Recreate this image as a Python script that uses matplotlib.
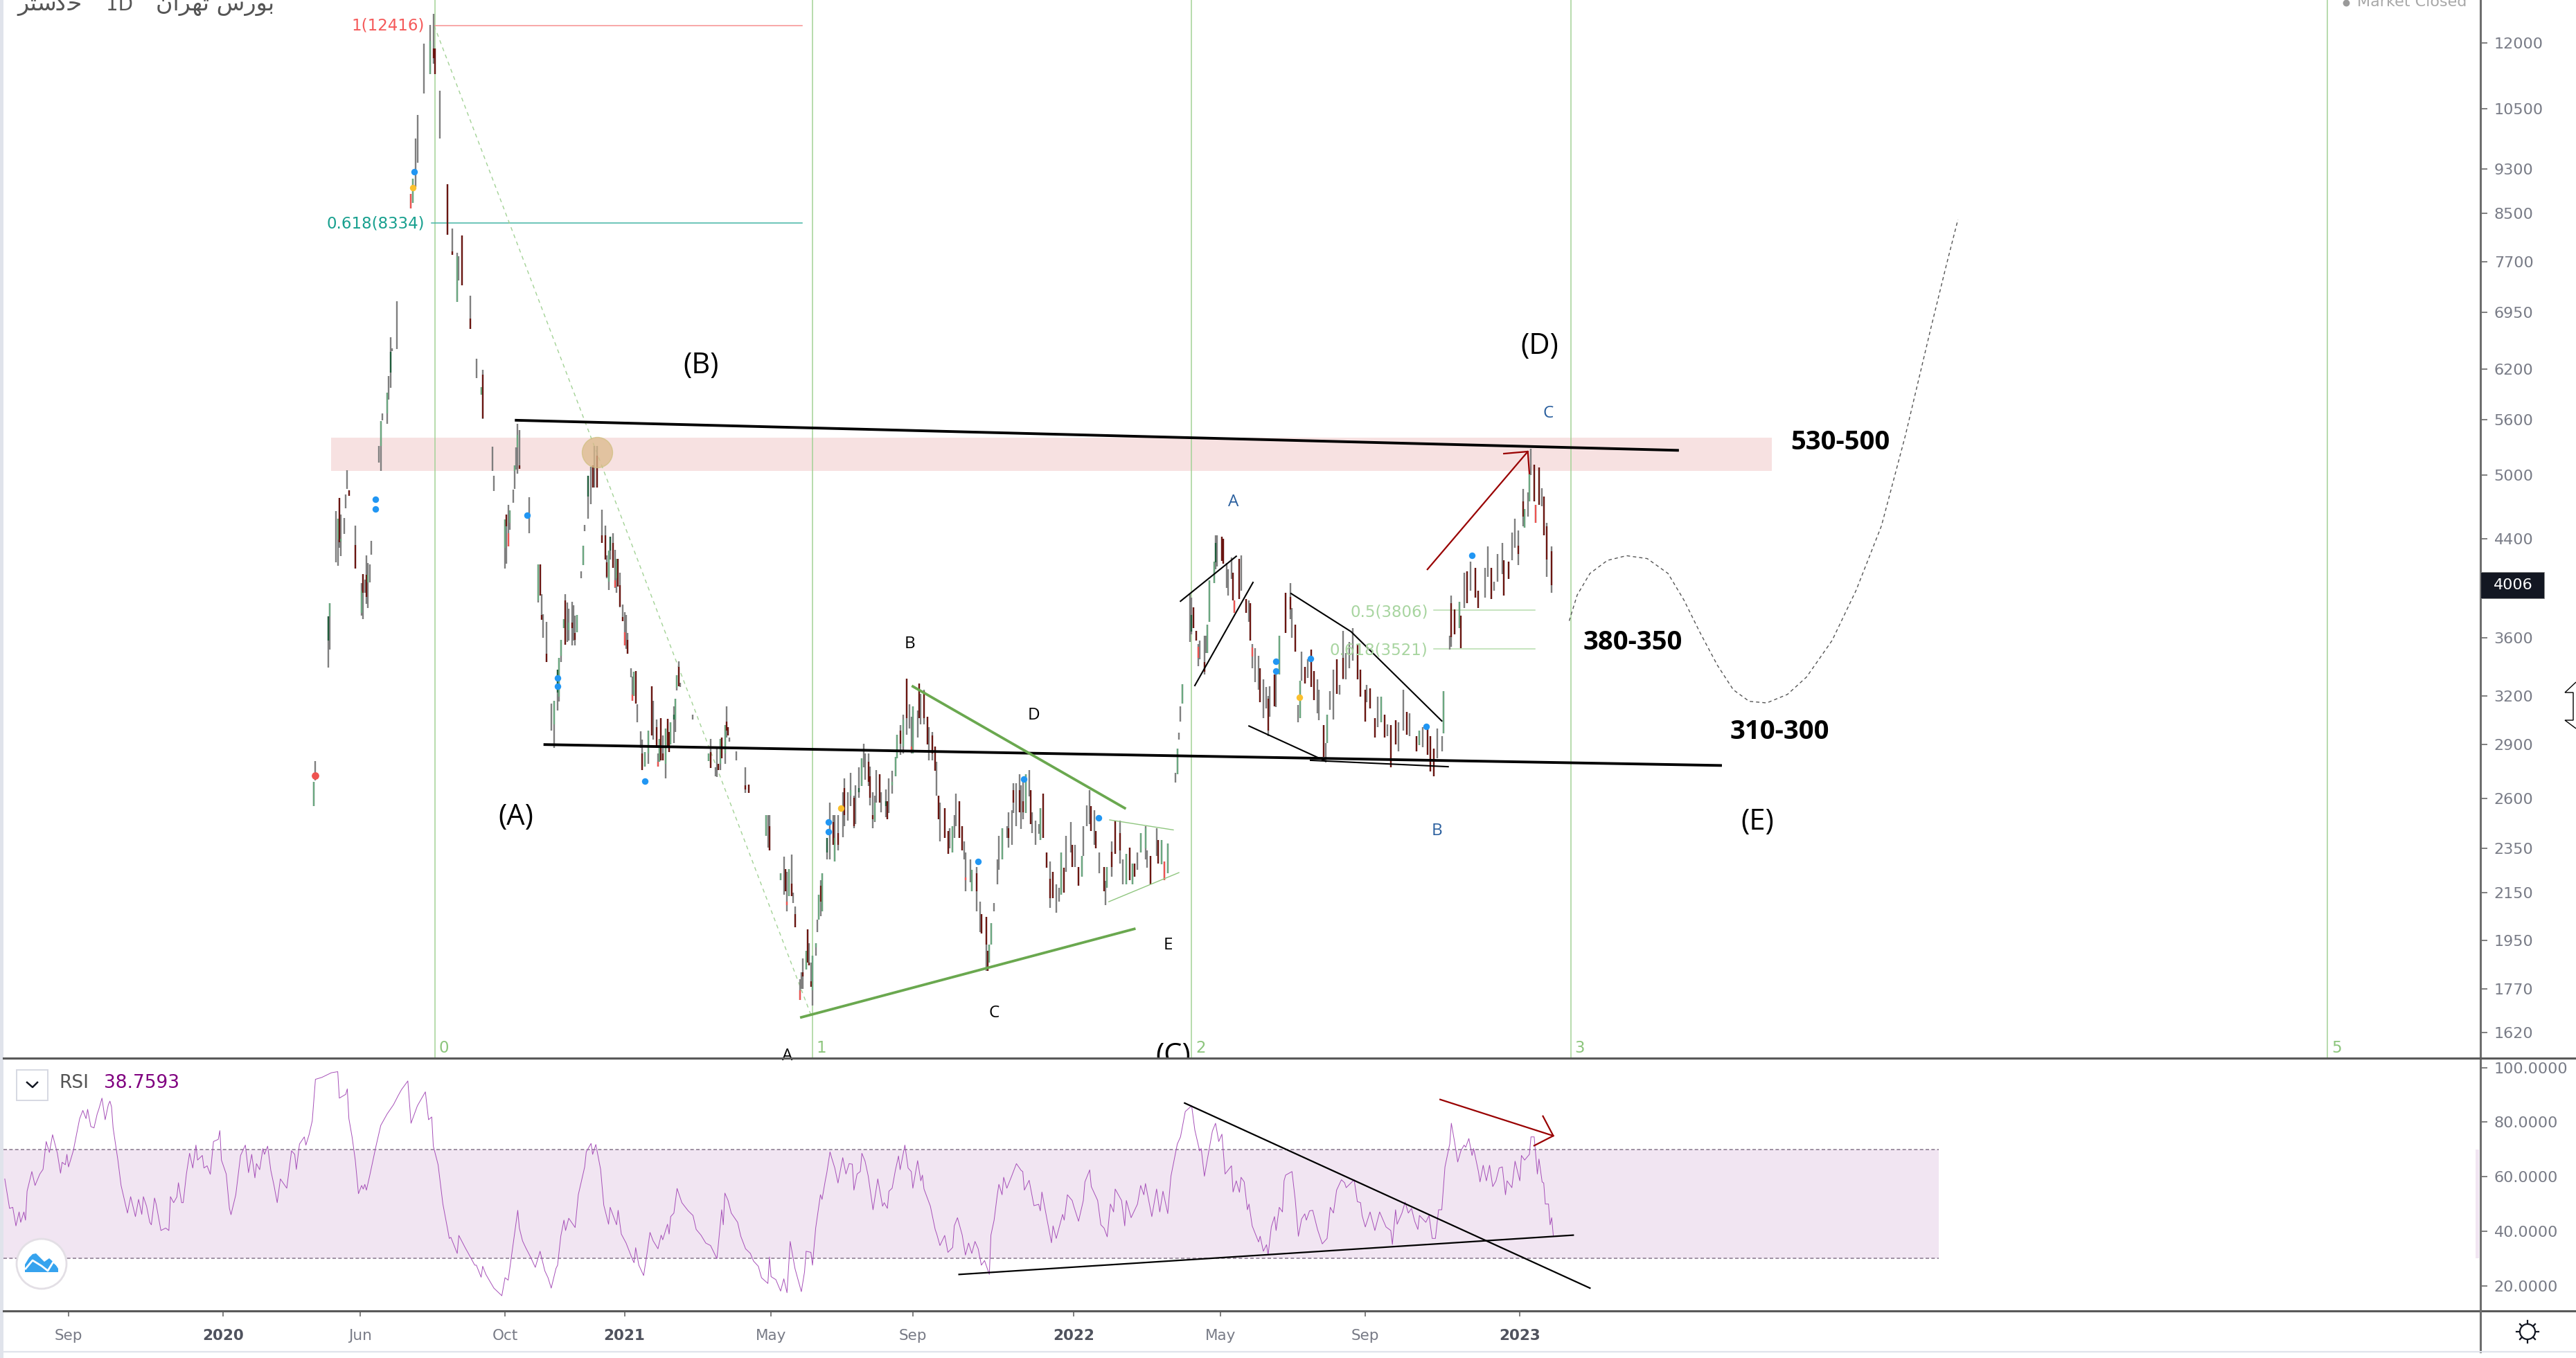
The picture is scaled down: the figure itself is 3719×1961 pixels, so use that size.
import matplotlib
matplotlib.use("Agg")
import matplotlib.pyplot as plt
from matplotlib.patches import Rectangle, Circle, Polygon

plt.rcParams['font.family'] = ['DejaVu Sans']

W, H = 3719, 1961
PX_PER_BAR = 2.3  # one bar number is 2.3 pixels wide on this chart

# price candles (bar number, high, low)
bar_x = [197,198,206,207,211,212,213,214,216,217,
         218,219,223,227,228,229,230,231,232,233,
         238,239,240,243,244,245,246,249,258,259,
         261,262,266,270,272,273,276,281,284,287,
         288,290,295,299,302,303,309,310,317,318,
         319,320,322,323,324,325,326,332,338,339,
         340,341,343,346,348,350,351,352,354,355,
         356,357,359,360,361,362,365,366,367,369,
         371,372,373,375,378,380,381,382,383,385,
         386,387,388,389,391,392,393,394,396,397,
         398,399,400,402,403,405,407,409,410,412,
         413,414,415,416,418,419,420,421,423,424,
         425,426,427,435,445,446,449,450,451,452,
         453,455,456,457,458,462,468,470,481,482,
         483,490,492,493,494,495,497,498,499,502,
         503,504,506,507,508,509,510,512,513,514,
         515,516,519,521,523,524,526,529,530,532,
         534,536,537,539,541,542,543,545,546,548,
         549,550,552,553,556,557,558,560,562,563,
         565,567,569,571,572,573,576,577,578,580,
         582,583,585,587,588,589,590,593,595,596,
         598,599,600,602,604,605,606,609,610,613,
         615,616,619,620,621,622,624,626,627,629,
         632,633,635,636,638,640,641,642,644,646,
         647,648,650,652,653,655,657,659,661,663,
         665,666,668,669,672,673,675,677,679,680,
         682,684,685,687,688,690,693,694,695,698,
         700,703,705,707,709,711,712,714,716,719,
         720,722,726,727,729,731,733,738,739,740,
         741,742,747,748,749,751,752,753,756,757,
         758,759,762,763,764,767,768,770,771,773,
         774,775,778,779,782,784,785,786,788,790,
         791,793,795,796,797,800,801,803,807,810,
         811,813,815,816,817,819,821,823,825,827,
         828,831,832,833,835,837,839,841,843,845,
         847,849,852,854,857,858,860,863,865,867,
         869,871,873,876,878,881,883,885,889,891,
         893,896,898,900,902,905,906,910,911,913,
         916,917,919,921,923,926,928,932,934,936,
         938,940,943,944,947,949,951,953,956,957,
         959,960,961,963,964,966,968,969,971,974]
bar_high = [2690,2805,3760,3860,4650,4580,4780,4620,4590,4810,
            5055,4850,4515,4020,4095,4050,4250,4185,4175,4380,
            5305,5580,5670,5915,6110,6610,6470,7110,8840,9115,
            9885,10370,11980,12440,12720,11860,10890,9010,8240,7845,
            7790,8125,7190,6330,5975,6190,5300,4995,4575,4620,
            4710,4660,4855,5105,5290,5550,5480,4785,4175,4175,
            3930,3775,3715,3150,3170,3375,3455,3585,3740,3930,
            3865,3820,3870,3845,3765,3770,4120,4335,4520,4995,
            5090,5105,5305,5305,4665,4515,4250,4290,4415,4445,
            4300,4225,4225,4105,3850,3790,3770,3635,3385,3330,
            3360,3365,3145,2980,2930,2855,2985,3265,3170,3050,
            2850,2935,3060,2955,2995,3055,2975,3035,3133,3180,
            3335,3430,3285,3080,2850,2935,2770,2880,2790,2935,
            2940,3015,3133,3005,2940,2860,2770,2675,2515,2515,
            2515,2235,2310,2255,2240,2255,2320,2150,2090,1805,
            1830,1880,1910,1995,1940,1865,1891,1940,2035,2140,
            2205,2235,2400,2580,2515,2515,2515,2635,2710,2635,
            2740,2615,2670,2770,2820,2905,2850,2850,2775,2635,
            2615,2755,2730,2635,2650,2585,2710,2750,2830,2960,
            3015,3080,3313,3145,3070,3135,3105,3280,3215,3240,
            3070,3005,2975,2890,2800,2615,2580,2550,2434,2450,
            2460,2515,2625,2585,2460,2385,2330,2300,2250,2265,
            2110,2057,2045,1910,1935,2020,2105,2300,2410,2450,
            2460,2530,2540,2680,2680,2730,2670,2710,2730,2755,
            2645,2530,2485,2470,2550,2625,2330,2290,2240,2185,
            2170,2330,2260,2410,2480,2367,2367,2265,2315,2460,
            2565,2645,2560,2540,2434,2330,2265,2200,2265,2385,
            2485,2485,2300,2325,2355,2280,2280,2330,2425,2460,
            2340,2315,2450,2390,2390,2290,2375,2740,2875,2970,
            3133,3275,3930,3905,3830,3650,3555,3580,3615,3615,
            3695,4045,4200,4430,4430,4415,4400,4185,4135,4235,
            4105,3885,4225,4250,3895,3885,3860,3555,3525,3470,
            3385,3310,3260,3200,3265,3340,3385,3615,3945,4020,
            3825,3695,3140,3300,3500,3395,3445,3515,3365,3310,
            3240,3015,2910,3080,3230,3375,3445,3270,3650,3490,
            3570,3670,3555,3375,3240,3270,3250,3060,3195,3195,
            3080,3020,3015,3045,3035,3240,3100,3090,2950,2985,
            3005,3015,2950,2875,2995,2950,3230,3615,3920,3810,
            3870,3765,4105,4120,4200,4146,3960,4146,4330,4146,
            4032,4264,4360,4210,4200,4455,4580,4470,4865,4670,
            4830,5020,5280,5110,4710,5080,4870,4790,4540,4330]
bar_low = [2560,2695,3390,3515,4195,4165,4320,4245,4440,4680,
           4865,4800,4140,3765,3740,3940,3855,3825,4025,4260,
           5130,5045,5590,5550,5830,5970,6430,6460,8580,8680,
           8960,9415,10830,11260,11500,11260,9885,8135,7810,7100,
           7415,7350,6720,6085,5890,5605,5045,4845,4140,4180,
           4330,4480,4730,4865,5060,5015,5070,4450,3865,3920,
           3735,3600,3425,2985,2880,3105,3165,3425,3670,3550,
           3570,3580,3545,3580,3545,3640,4060,4170,4465,4580,
           4715,4880,4880,4880,4360,4215,4060,3965,4215,4146,
           3980,3940,3990,3830,3725,3545,3520,3485,3325,3170,
           3200,3150,3035,2880,2755,2775,2790,2955,2930,2880,
           2775,2800,2810,2810,2710,2890,2855,2900,2910,2975,
           3235,3265,3260,3050,2805,2765,2720,2715,2755,2755,
           2820,2790,2940,2955,2915,2810,2630,2630,2410,2355,
           2340,2205,2140,2155,2070,2135,2135,2105,2005,1730,
           1770,1770,1839,1865,1855,1775,1710,1891,1985,2035,
           2050,2070,2300,2300,2367,2290,2340,2405,2460,2485,
           2560,2450,2470,2605,2665,2770,2700,2665,2565,2450,
           2480,2580,2580,2530,2503,2495,2525,2625,2720,2820,
           2840,2850,2960,2995,2850,2850,2940,3060,3020,3020,
           2900,2810,2810,2750,2615,2495,2385,2400,2325,2350,
           2330,2400,2460,2400,2340,2300,2155,2195,2155,2070,
           1985,1980,1835,1835,1865,1935,2070,2185,2250,2300,
           2400,2355,2367,2525,2460,2530,2445,2495,2525,2610,
           2470,2425,2367,2420,2390,2400,2260,2085,2125,2065,
           2110,2140,2150,2240,2330,2265,2265,2180,2220,2315,
           2460,2470,2434,2367,2350,2235,2155,2095,2170,2220,
           2325,2280,2185,2185,2205,2185,2220,2250,2330,2300,
           2260,2185,2315,2280,2275,2205,2235,2685,2730,2930,
           3040,3150,3570,3625,3670,3580,3400,3445,3340,3490,
           3490,3715,4020,4135,4160,4205,4180,3980,3920,4055,
           3885,3785,3895,3960,3785,3715,3580,3385,3290,3240,
           3160,3060,3120,2950,3070,3135,3130,3340,3635,3740,
           3600,3500,3035,3060,3300,3280,3320,3260,3175,3090,
           3045,2830,2795,2910,3110,3050,3215,3210,3310,3310,
           3385,3435,3310,3195,3040,3160,3120,2940,3005,3035,
           2940,2950,2770,2900,2860,2985,2960,2950,2860,2895,
           2885,2840,2745,2720,2820,2860,2965,3515,3535,3625,
           3670,3525,3825,3860,3960,3905,3825,3905,4070,3895,
           3960,4032,4095,3920,4055,4210,4320,4170,4510,4495,
           4600,4745,5005,4745,4540,4710,4700,4430,4070,3945]

# candles whose body shows a colour (bar number, open, close)
body_x = [197,206,207,212,213,214,219,223,227,228,
          230,231,243,239,245,258,259,270,272,273,
          281,284,287,290,295,302,303,317,318,319,
          320,323,325,326,338,339,340,343,348,350,
          351,352,354,355,357,359,361,362,366,369,
          372,375,378,380,381,382,383,385,386,387,
          388,389,391,392,394,397,398,399,403,405,
          407,409,412,413,414,415,416,418,419,420,
          421,423,424,425,426,445,446,451,452,453,
          455,456,457,468,470,481,483,490,493,494,
          495,497,499,502,504,506,507,508,509,510,
          512,514,515,516,519,523,524,526,530,534,
          536,539,541,545,546,548,549,552,556,557,
          560,562,563,565,567,569,572,573,577,580,
          582,585,587,589,593,595,598,602,604,606,
          610,613,616,619,620,621,622,629,633,636,
          640,642,644,647,653,655,657,659,661,666,
          668,673,677,679,685,688,693,695,698,700,
          703,707,709,711,712,716,719,722,727,729,
          731,733,739,742,748,749,751,752,756,758,
          759,762,763,767,768,774,775,778,782,785,
          786,791,796,800,803,807,810,813,816,819,
          823,825,831,833,839,843,852,854,857,860,
          863,867,869,873,876,883,889,891,896,898,
          900,906,911,913,916,917,921,926,928,936,
          944,947,953,956,957,960,963,964,966,969,
          971,974]
body_open = [2560,3577,3760,4390,4780,4375,4850,4340,3785,4095,
             4090,4025,5670,5305,6155,8840,8680,11260,11860,11860,
             9010,7865,7100,8125,6867,5890,6130,4320,4620,4445,
             4540,5045,5290,5105,3885,4175,3770,3485,3020,3220,
             3195,3470,3670,3885,3655,3710,3635,3640,4170,4790,
             5105,5205,4430,4430,4195,4032,4295,4360,4045,4060,
             4225,4005,3755,3640,3585,3210,3200,3365,2850,2775,
             2850,3265,3005,2800,2800,3060,2850,2790,3055,2975,
             2900,3050,3050,3255,3395,2805,2855,2790,2790,2940,
             2850,3040,3005,2670,2675,2410,2460,2205,2255,2110,
             2135,2190,2057,1763,1830,1839,1995,1865,1795,1763,
             1925,2035,2180,2070,2330,2480,2290,2425,2655,2615,
             2605,2635,2665,2801,2720,2515,2485,2730,2560,2585,
             2670,2720,2820,2985,2890,3313,2890,2850,3280,3230,
             3070,2955,2890,2615,2550,2434,2330,2585,2460,2215,
             2155,2235,2057,2045,1910,1865,1935,2300,2450,2645,
             2645,2585,2525,2645,2390,2625,2330,2210,2240,2140,
             2260,2367,2265,2220,2560,2434,2265,2170,2335,2485,
             2425,2185,2355,2185,2280,2330,2350,2315,2390,2275,
             2290,2235,2730,3150,3645,3830,3650,3535,3425,3490,
             3715,4020,4195,4415,4400,4105,3885,4225,3895,3860,
             3530,3385,3180,3340,3340,3945,3910,3695,3060,3395,
             3515,3365,3015,2910,3445,3455,3555,3375,3240,3250,
             3060,3035,3080,3015,3045,3100,2950,2895,3015,2950,
             2875,2965,3860,3810,3670,3765,4120,4146,3960,4146,
             4210,4200,4335,4745,4495,4745,5110,4710,5080,4790,
             4510,4290]
body_close = [2690,3760,3860,4580,4370,4400,4800,4140,3960,3940,
              3910,4090,5915,5580,6420,8580,9115,12045,11630,11260,
              8135,7810,7790,7350,6720,5975,5610,4575,4510,4330,
              4660,5105,5430,5070,4175,3920,3735,3425,3170,3375,
              3455,3585,3740,3550,3710,3670,3585,3770,4335,4995,
              4880,4880,4360,4215,4070,4295,4415,4146,3985,4225,
              3990,3835,3725,3545,3485,3170,3360,3150,2755,2855,
              2985,2955,2880,2775,2935,2810,2810,2995,2890,2855,
              3035,3080,3180,3335,3265,2850,2765,2755,2935,2820,
              3015,2985,2955,2650,2630,2515,2340,2235,2155,2095,
              2255,2135,2005,1730,1815,1910,1865,1855,1775,1891,
              1940,2140,2110,2235,2400,2367,2400,2367,2515,2645,
              2460,2655,2820,2690,2605,2495,2580,2580,2585,2495,
              2690,2830,2960,2905,3050,3060,2870,3135,3060,3060,
              2900,2850,2750,2495,2400,2325,2460,2400,2340,2205,
              2250,2155,1980,1935,1835,1935,2020,2450,2400,2580,
              2530,2530,2730,2470,2550,2400,2260,2125,2125,2330,
              2150,2265,2180,2315,2434,2350,2155,2265,2265,2325,
              2340,2325,2205,2280,2220,2425,2450,2185,2280,2390,
              2205,2375,2875,3275,3770,3670,3580,3455,3360,3695,
              4045,4200,4360,4205,4180,3885,3785,3895,3785,3580,
              3465,3160,2985,3135,3615,3635,3810,3500,3300,3280,
              3260,3175,2830,3080,3215,3313,3310,3195,3040,3120,
              2940,3195,2940,2770,2900,2960,2860,2985,2840,2745,
              2720,3230,3604,3625,3870,3525,3860,3905,3825,3895,
              3920,4055,4264,4600,4670,5020,4745,4540,4710,4430,
              4215,4005]
bright_bars = [258, 319, 386, 392, 397, 413, 494, 502, 572, 606, 731, 752, 775, 786, 964]
dark_bars = [206, 245, 350, 369, 383, 423, 519, 539, 556, 748, 763]

# RSI pane, read point by point
rsi_x = [3,6,8,10,12,13,15,16,17,20,22,25,27,29,31,33,36,38,39,41,42,43,46,50,52,54,55,57,59,61,62,64,66,68,69,70,71,74,76,80,
         82,85,87,89,90,92,94,95,97,98,101,104,106,107,109,111,112,114,115,117,119,121,123,124,127,128,130,132,134,137,138,139,142,144,145,148,151,154,156,158,
         160,161,163,165,166,168,170,172,174,176,180,183,185,186,188,191,192,194,196,198,202,208,212,213,217,218,219,221,223,225,227,228,229,230,232,236,239,243,247,250,
         252,256,258,262,267,269,271,272,275,278,281,282,283,287,288,292,294,298,299,302,303,305,310,315,317,319,322,325,326,328,330,333,336,339,342,344,346,349,350,352,
         354,355,357,361,363,367,368,371,372,374,377,379,382,383,387,388,390,393,397,398,399,401,404,406,408,410,413,415,416,419,420,421,423,425,428,432,435,437,440,443,
         446,450,451,453,454,455,457,459,463,465,468,471,473,476,478,482,483,484,487,490,492,494,496,499,501,503,505,506,509,510,512,515,516,518,519,521,
         522,524,526,529,531,533,535,536,538,540,541,543,545,548,551,554,555,557,558,560,562,564,565,568,570,572,573,576,578,579,580,584,587,588,590,593,595,598,599,601,
         604,606,608,610,612,614,616,618,621,622,624,626,627,629,630,632,635,638,641,642,643,646,649,652,653,654,657,660,661,663,667,668,670,673,674,677,680,681,684,685,
         689,691,693,695,697,699,700,704,706,707,710,714,716,718,719,723,726,728,730,733,735,739,741,744,748,750,753,754,756,761,763,765,767,769,773,774,776,778,779,781,
         783,784,786,790,791,793,795,796,798,800,801,803,805,806,807,811,813,815,817,819,820,822,824,827,830,833,835,837,839,842,844,845,850,852,854,855,857,860,863,866,
         870,873,874,876,877,880,882,884,886,888,890,891,895,897,899,901,903,905,907,910,911,913,915,917,919,920,922,924,925,928,929,931,933,935,937,939,941,943,945,946,
         949,951,954,955,957,960,961,963,965,966,968,969,970,972,973,974,975]
rsi_val = [59.2,48.4,48.8,42.0,47.1,43.3,47.1,44.1,54.7,61.9,56.8,61.0,62.7,72.9,68.9,75.4,68.6,61.3,65.3,64.4,68.2,63.6,69.5,81.3,84.3,81.3,84.7,78.4,77.9,83.0,84.7,88.8,80.9,86.4,87.7,85.6,77.9,66.1,56.8,46.7,
           52.7,45.4,51.7,46.2,52.7,49.2,43.3,42.4,52.2,50.0,40.3,41.2,40.3,52.7,50.5,52.6,57.8,50.5,50.5,61.0,68.6,63.2,71.6,66.1,67.8,63.2,64.0,60.9,72.9,73.7,76.9,66.1,61.0,48.4,46.1,53.4,67.8,71.6,61.5,68.2,
           59.6,64.8,62.6,70.3,68.2,71.2,62.3,56.8,50.5,59.2,55.8,69.5,68.2,62.7,72.0,74.6,71.6,75.4,80.5,95.7,96.4,98.1,98.5,88.8,90.2,92.2,81.3,74.6,66.1,53.8,56.8,55.5,57.2,55.1,60.2,71.2,78.8,83.0,86.4,89.8,
           91.9,95.1,79.6,86.0,91.1,80.9,81.9,71.2,64.4,50.0,40.7,37.4,37.8,31.9,38.5,34.0,31.9,27.6,27.6,23.2,27.2,24.2,19.2,16.4,23.0,22.1,34.8,47.7,41.2,36.5,34.0,30.6,26.8,32.7,25.5,23.0,19.2,26.4,27.6,38.2,
           44.1,40.3,44.8,41.4,53.4,63.6,69.1,72.2,68.2,71.8,62.7,49.6,42.6,48.8,42.4,47.7,39.0,35.7,29.7,28.5,34.0,27.6,23.8,31.4,39.6,36.5,33.6,38.6,36.9,42.6,39.0,45.4,46.7,55.7,50.5,47.5,45.8,40.7,38.6,35.7,
           34.8,30.0,35.7,47.9,42.4,54.0,51.3,46.7,43.3,38.2,33.6,31.9,29.1,27.2,23.0,20.9,30.6,23.4,22.3,18.1,22.6,17.5,36.3,26.4,22.1,17.9,25.1,32.7,32.3,27.6,41.2,53.4,51.7,58.5,61.5,69.1,
           67.0,63.2,57.7,67.0,61.0,64.8,64.6,55.1,61.0,61.9,68.6,65.7,60.2,47.9,59.2,49.2,50.5,48.4,54.7,55.8,62.3,67.6,62.6,71.6,63.2,61.9,55.8,65.9,58.5,60.6,55.5,49.2,40.7,39.0,34.8,38.5,32.3,34.1,42.0,45.0,
           38.6,31.3,35.7,31.9,36.3,33.6,27.6,29.3,24.2,38.6,44.1,53.4,57.2,53.4,59.8,55.8,60.2,64.8,62.3,61.9,55.1,58.7,49.4,49.9,47.5,54.4,45.0,35.8,42.0,37.4,46.2,44.1,53.4,51.3,49.2,43.7,51.3,58.1,62.5,56.4,
           51.3,42.4,41.2,38.0,50.0,47.1,55.5,51.3,42.0,51.3,45.0,50.0,56.8,53.4,57.5,45.4,55.5,47.1,54.7,46.5,60.2,72.0,74.6,83.9,86.0,77.1,69.5,70.3,60.2,76.7,79.6,72.9,75.6,61.0,64.0,54.4,58.5,54.3,59.8,58.1,
           47.9,50.0,42.0,36.1,38.2,32.7,35.1,31.4,41.6,45.4,40.3,48.8,47.1,58.5,60.6,61.9,51.7,38.2,44.5,46.4,44.1,47.5,47.7,40.7,35.4,37.4,48.8,46.7,55.1,58.9,57.8,56.0,58.9,50.9,50.5,45.8,41.6,47.1,40.3,47.1,
           41.6,40.3,35.2,47.9,42.6,46.7,50.7,46.7,48.4,43.7,40.7,45.8,43.3,45.8,37.4,37.4,47.9,47.9,63.6,72.0,79.6,72.9,65.4,69.5,71.6,70.8,74.0,67.8,70.3,61.9,58.1,64.2,58.5,64.2,56.4,58.5,63.2,63.6,53.4,58.5,
           56.0,65.7,58.5,67.8,66.1,68.2,74.6,74.6,61.0,66.5,58.1,57.7,50.0,50.0,42.4,45.0,38.5]

# axis labels
price_ticks = [12000, 10500, 9300, 8500, 7700, 6950, 6200, 5600, 5000, 4400, 3600, 3200, 2900, 2600, 2350, 2150, 1950, 1770, 1620]
rsi_ticks = [100, 80, 60, 40, 20]
date_bars = [43, 140, 226, 317, 392, 484, 573, 674, 766, 857, 954]
date_labels = ['Sep', '2020', 'Jun', 'Oct', '2021', 'May', 'Sep', '2022', 'May', 'Sep', '2023']

# fibonacci tools
fib_time_bars = [273, 510, 748, 986, 1461]
fib_time_labels = ['0', '1', '2', '3', '5']

# drawings on the price pane (bar numbers and prices)
top_line_x, top_line_y = [324, 1053], [5590, 5260]
low_line_x, low_line_y = [342, 1080], [2900, 2780]
green_down_x, green_down_y = [573, 706], [3262, 2550]
green_up_x, green_up_y = [503, 712], [1670, 1997]
tri_top_x, tri_top_y = [696.5, 736.5], [2490, 2440]
tri_low_x, tri_low_y = [696, 740], [2110, 2238]
chan_a_x, chan_a_y = [741, 776], [3876, 4245]
chan_b_x, chan_b_y = [750, 786.5], [3268, 4026]
wedge_x, wedge_y = [810.4, 848, 905], [3937, 3645, 3042]
wedge_low_x, wedge_low_y = [784, 832], [3011, 2805]
flat_low_x, flat_low_y = [822.6, 909], [2809, 2773]
red_arrow_x, red_arrow_y = [896, 959], [4134, 5247]
red_head_x, red_head_y = [944, 959, 960], [5225, 5247, 5020]
fib_diag_x, fib_diag_y = [272.6, 509.6], [12416, 1670]
path_x = [985, 990, 998, 1009, 1021, 1034, 1047, 1057, 1067, 1078, 1088, 1098, 1109, 1122, 1134, 1150, 1165, 1181, 1196, 1212, 1222, 1229]
path_y = [3725, 3925, 4100, 4210, 4250, 4225, 4100, 3885, 3640, 3405, 3240, 3165, 3155, 3210, 3325, 3580, 3960, 4515, 5420, 6735, 7680, 8390]

blue_x = [260, 235.6, 235.6, 331, 520, 520, 614, 642.5, 689.4, 801, 801, 822.4, 895, 924, 404.6, 350, 350]
blue_y = [9245, 4765, 4670, 4612, 2480, 2430, 2290, 2705, 2500, 3430, 3365, 3450, 3010, 4250, 2692, 3320, 3262]
yellow_x = [259, 528, 815.6]
yellow_y = [8950, 2550, 3190]

# drawings on the RSI pane
rsi_fall_x, rsi_fall_y = [743.6, 998], [87, 19.2]
rsi_rise_x, rsi_rise_y = [602, 987.5], [24.2, 38.6]
rsi_red_x, rsi_red_y = [904, 975], [88.3, 75]
rsi_head_x, rsi_head_y = [968.5, 975, 963], [82.2, 75, 71.4]

GREY = '#7f7f7f'
UP = '#6aa880'
DOWN = '#6b1510'
BRIGHT = '#ef5350'
DARK_UP = '#1e5c3a'
FIB = '#a3d296'
LINE = '#5a5a5a'
TICK_TEXT = '#787b86'


def pane_rect(top, bottom):
    return [5 / W, 1 - bottom / H, (3581 - 5) / W, (bottom - top) / H]


fig = plt.figure(figsize=(W / 100, H / 100), dpi=100, facecolor='white')
ax = fig.add_axes(pane_rect(0, 1528))
ax_rsi = fig.add_axes(pane_rect(1529, 1893))

# price pane
ax.set_yscale('log')
ax.set_xlim(5 / PX_PER_BAR, 3581 / PX_PER_BAR)
ax.set_ylim(1537.5, 13084)
ax.add_patch(Rectangle((208, 5045), 1112 - 208, 5400 - 5045, facecolor='#f7e1e1', edgecolor='none', zorder=1))
for b in fib_time_bars:
    ax.axvline(b, color=FIB, lw=1.1, zorder=1.5)
for b, t in zip(fib_time_bars, fib_time_labels):
    ax.annotate(t, (b, 1570), xytext=(4, 0), textcoords='offset points', ha='left', va='center',
                color='#8cc57c', fontsize=16.5)

ax.plot([272, 503.5], [12416, 12416], color='#f78f8f', lw=1.1, zorder=1.5)
ax.plot([270.7, 503.5], [8334, 8334], color='#45b5a5', lw=1.1, zorder=1.5)
ax.plot([900, 963.3], [3806, 3806], color='#b6dcae', lw=1.1, zorder=1.5)
ax.plot([900, 963.3], [3521, 3521], color='#b6dcae', lw=1.1, zorder=1.5)
ax.plot(fib_diag_x, fib_diag_y, color='#a3d296', lw=1, ls=(0, (4, 4)), zorder=1.5)

ax.vlines(bar_x, bar_low, bar_high, color=GREY, lw=1.7, zorder=2)
body_colors = []
for b, o, c in zip(body_x, body_open, body_close):
    if b in bright_bars:
        body_colors.append(BRIGHT)
    elif b in dark_bars:
        body_colors.append(DARK_UP)
    elif c > o:
        body_colors.append(UP)
    else:
        body_colors.append(DOWN)
ax.vlines(body_x, body_open, body_close, color=body_colors, lw=1.6, zorder=2.2)

ax.scatter(blue_x, blue_y, s=46, color='#2196f3', zorder=3, linewidths=0)
ax.scatter(yellow_x, yellow_y, s=46, color='#fbc02d', zorder=3, linewidths=0)
ax.scatter([198], [2724], s=60, color='#ef5350', zorder=3, linewidths=0)
ax.scatter([375], [5240], s=1000, facecolor='#dcb98a', edgecolor='#cfc07f', alpha=0.75, lw=1, zorder=2.5)

ax.plot(top_line_x, top_line_y, color='black', lw=2.8, zorder=4)
ax.plot(low_line_x, low_line_y, color='black', lw=2.8, zorder=4)
ax.plot(green_down_x, green_down_y, color='#6aa84f', lw=2.7, zorder=4)
ax.plot(green_up_x, green_up_y, color='#6aa84f', lw=2.7, zorder=4)
ax.plot(tri_top_x, tri_top_y, color='#8fc67f', lw=1, zorder=4)
ax.plot(tri_low_x, tri_low_y, color='#8fc67f', lw=1, zorder=4)
for xs, ys in [(chan_a_x, chan_a_y), (chan_b_x, chan_b_y), (wedge_x, wedge_y), (wedge_low_x, wedge_low_y), (flat_low_x, flat_low_y)]:
    ax.plot(xs, ys, color='black', lw=1.5, zorder=4)
ax.plot(red_arrow_x, red_arrow_y, color='#990000', lw=1.6, zorder=4)
ax.plot(red_head_x, red_head_y, color='#990000', lw=1.6, zorder=4)
ax.plot(path_x, path_y, color='#555555', lw=1, ls=(0, (3.5, 3)), zorder=4)

# wave labels
for t, x, y in [('(B)', 440, 6240), ('(D)', 966.5, 6490), ('(A)', 324, 2505), ('(E)', 1103, 2480), ('(C)', 736.5, 1545)]:
    ax.text(x, y, t, ha='center', va='center', fontsize=30, family='Open Sans', color='black', clip_on=True, zorder=5)
for t, x, y in [('530-500', 1155, 5345), ('380-350', 1025, 3565), ('310-300', 1117, 2975)]:
    ax.text(x, y, t, ha='center', va='center', fontsize=27.5, family='Open Sans', fontweight='bold', color='black', zorder=5)
for t, x, y in [('B', 571, 3555), ('D', 649, 3075), ('E', 733, 1932), ('C', 624, 1684), ('A', 494, 1545)]:
    ax.text(x, y, t, ha='center', va='center', fontsize=17.5, family='Open Sans', color='black', zorder=5)
for t, x, y in [('A', 774, 4737), ('B', 902, 2435), ('C', 972, 5670)]:
    ax.text(x, y, t, ha='center', va='center', fontsize=17.5, family='Open Sans', color='#2a5f9e', zorder=5)

ax.annotate('1(12416)', (272, 12416), xytext=(-9, 0), textcoords='offset points', ha='right', va='center', color='#f55a5a', fontsize=16.5)
ax.annotate('0.618(8334)', (272, 8334), xytext=(-9, -1), textcoords='offset points', ha='right', va='center', color='#18a08f', fontsize=16.5)
ax.annotate('0.5(3806)', (900, 3806), xytext=(-6, -2), textcoords='offset points', ha='right', va='center', color='#a8d5a0', fontsize=16.5)
ax.annotate('0.618(3521)', (900, 3521), xytext=(-6, -2), textcoords='offset points', ha='right', va='center', color='#a8d5a0', fontsize=16.5, zorder=5)

ax.yaxis.tick_right()
ax.set_yticks(price_ticks, [str(p) for p in price_ticks])
ax.minorticks_off()
ax.tick_params(axis='y', which='major', length=7.2, width=1.2, color='#6a6a6a', labelcolor=TICK_TEXT, labelsize=16, pad=7)
ax.tick_params(axis='x', bottom=False, labelbottom=False)

# RSI pane
ax_rsi.set_xlim(5 / PX_PER_BAR, 3581 / PX_PER_BAR)
ax_rsi.set_ylim(10.84, 103.2)
ax_rsi.fill_between([2, 1217], 30, 70, color='#f1e5f2', lw=0, zorder=1)
ax_rsi.fill_between([1554, 1556], 30, 70, color='#f1e5f2', lw=0, zorder=1)
ax_rsi.plot([2, 1217], [70, 70], color='#8f7f94', lw=1.2, ls=(0, (3, 2)), zorder=1.5)
ax_rsi.plot([2, 1217], [30, 30], color='#8f7f94', lw=1.2, ls=(0, (3, 2)), zorder=1.5)
ax_rsi.plot(rsi_x, rsi_val, color='#a64fb8', lw=0.7, zorder=2)
ax_rsi.plot(rsi_fall_x, rsi_fall_y, color='black', lw=1.6, zorder=3)
ax_rsi.plot(rsi_rise_x, rsi_rise_y, color='black', lw=1.6, zorder=3)
ax_rsi.plot(rsi_red_x, rsi_red_y, color='#990000', lw=1.6, zorder=3)
ax_rsi.plot(rsi_head_x, rsi_head_y, color='#990000', lw=1.6, zorder=3)

ax_rsi.yaxis.tick_right()
ax_rsi.set_yticks(rsi_ticks, ['%.4f' % r for r in rsi_ticks])
ax_rsi.tick_params(axis='y', length=7.2, width=1.2, color='#6a6a6a', labelcolor=TICK_TEXT, labelsize=16, pad=7)
ax_rsi.set_xticks(date_bars, date_labels)
ax_rsi.tick_params(axis='x', length=5.5, width=1.2, color='#6a6a6a', labelcolor=TICK_TEXT, labelsize=15.5, pad=13)
for lab in ax_rsi.get_xticklabels():
    if lab.get_text().startswith('20'):
        lab.set_fontweight('bold')
        lab.set_color('#50535e')

for a in (ax, ax_rsi):
    a.patch.set_alpha(0)
    a.spines['top'].set_visible(False)
    a.spines['left'].set_visible(False)
    a.spines['right'].set_color('#6e6e6e')
    a.spines['right'].set_linewidth(2.2)
    a.spines['bottom'].set_color(LINE)
    a.spines['bottom'].set_linewidth(2.2)

# window chrome around the panes, in plain pixels
chrome = fig.add_axes([0, 0, 1, 1], zorder=6)
chrome.set_xlim(0, W)
chrome.set_ylim(H, 0)
chrome.axis('off')
chrome.add_patch(Rectangle((0, 0), 5, H, facecolor='#e0e3eb', edgecolor='none'))
chrome.plot([5, W], [1528, 1528], color=LINE, lw=2.2)
chrome.plot([5, W], [1893, 1893], color=LINE, lw=2.2)
chrome.plot([3581, 3581], [1893, 1952], color='#6e6e6e', lw=2.2)
chrome.plot([0, W], [1952, 1952], color='#e0e3eb', lw=1.6)

# symbol header, cut by the top edge (shaped letters in display order)
bours = '\uFEB1\uFEAD\uFEEE\uFE91'
tehran = '\uFEE5\uFE8D\uFEAE\uFEEC\uFE97'
kgostar = '\uFEAE\uFE98\uFEB3\uFB94\uFEA7'
chrome.text(25, 15, kgostar, fontsize=24, color='#555555', ha='left', va='baseline')
chrome.text(153, 15, '1D', fontsize=20, color='#555555', ha='left', va='baseline')
chrome.text(225, 15, tehran + ' ' + bours, fontsize=24, color='#555555', ha='left', va='baseline')

chrome.scatter([3387], [4], s=50, color='#9a9a9a', linewidths=0)
chrome.text(3403, 3, 'Market Closed', fontsize=16, color='#a8a8a8', ha='left', va='center')

# last price flag
chrome.add_patch(Rectangle((3581, 826), 92, 38, facecolor='#131722', edgecolor='#8a8a8a', lw=0.6))
chrome.text(3600, 845, '4006', color='white', fontsize=16, ha='left', va='center')

# RSI legend
chrome.add_patch(Rectangle((24, 1545), 45, 44, facecolor='white', edgecolor='#d6d8e2', lw=1.4))
chrome.plot([39, 47, 54], [1563, 1570, 1563], color='#131722', lw=1.8)
chrome.text(85, 1564, 'RSI', fontsize=19, color='#555555', ha='left', va='center')
chrome.text(150, 1564, '38.7593', fontsize=19, color='#800080', ha='left', va='center')

# logo bubble
chrome.add_patch(Circle((60, 1825), 36, facecolor='white', edgecolor='#e3dfe5', lw=2))
chrome.add_patch(Polygon([(36, 1837), (36, 1826), (42, 1816), (47, 1811), (52, 1810), (58, 1816), (64, 1822),
                          (71, 1817), (79, 1824), (84, 1832), (84, 1837)], facecolor='#36a3ee', edgecolor='none'))
chrome.plot([37, 47, 60, 69, 77, 84], [1832, 1820, 1828, 1835, 1822, 1828], color='white', lw=2)

# gear
gear_x, gear_y = 3649, 1923
chrome.add_patch(Circle((gear_x, gear_y), 11, facecolor='white', edgecolor='#131722', lw=1.6))
for dx, dy in [(0, -16), (0, 16), (-16, 0), (16, 0), (-11, -11), (11, -11), (-11, 11), (11, 11)]:
    chrome.plot([gear_x + dx * 0.72, gear_x + dx], [gear_y + dy * 0.72, gear_y + dy], color='#131722', lw=1.6)

# resize cursor cut by the right edge
chrome.add_patch(Polygon([(3719, 985), (3703, 1000), (3715, 1000), (3715, 1040), (3703, 1040), (3719, 1052)],
                         closed=False, facecolor='white', edgecolor='black', lw=1))

fig.savefig('out.png', dpi=100)
